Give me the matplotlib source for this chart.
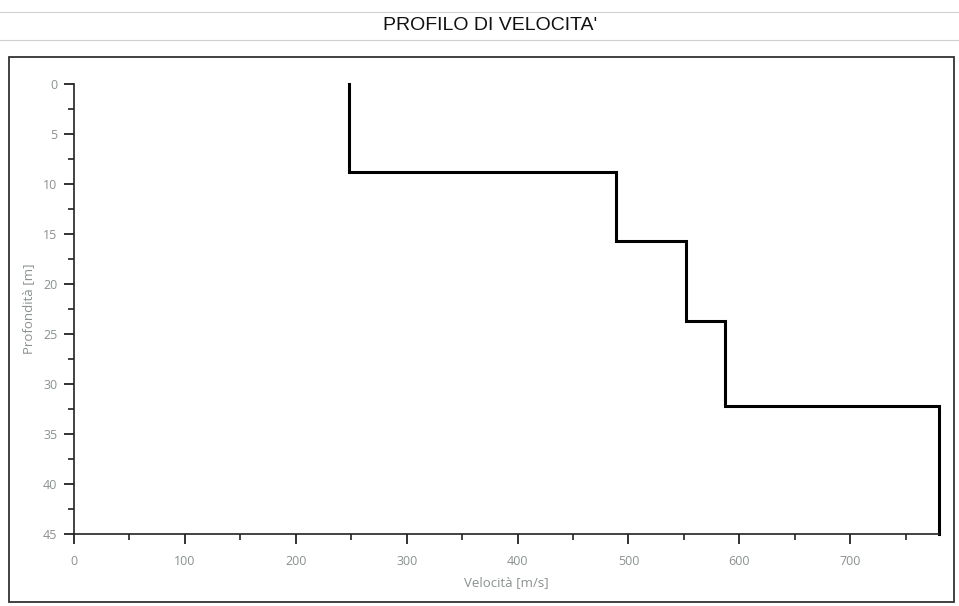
import matplotlib.pyplot as plt
from matplotlib.lines import Line2D
from matplotlib.patches import Rectangle
import numpy as np

# layer boundaries (depth, m) and shear-wave velocity of each layer (m/s)
layer_depths = [0, 8.8, 15.7, 23.7, 32.2, 45]
layer_velocities = [248, 489, 552, 587, 780]

x_ticks = [0, 100, 200, 300, 400, 500, 600, 700]
y_ticks = [0, 5, 10, 15, 20, 25, 30, 35, 40, 45]

W, H = 959, 606
fig = plt.figure(figsize=(W / 100, H / 100), dpi=100)
fig.patch.set_facecolor("white")

# title band and outer frame
for y in (12, 40):
    fig.add_artist(Line2D([0, 1], [1 - y / H, 1 - y / H], color="#d0d0d0", lw=0.8))
fig.text(490 / W, 1 - 26 / H, "PROFILO DI VELOCITA'", ha="center", va="center",
         fontsize=14, family="Liberation Sans", color="#111111")
fig.add_artist(Rectangle((9 / W, 1 - 602 / H), (954 - 9) / W, (602 - 57) / H,
                         fill=False, ec="#333333", lw=1.3, transform=fig.transFigure))

left, right, top, bottom = 74, 939, 84, 534
ax = fig.add_axes([left / W, 1 - bottom / H, (right - left) / W, (bottom - top) / H])

# step profile built from the layers
ys = np.repeat(layer_depths, 2)[1:-1]
xs = np.repeat(layer_velocities, 2)
ax.plot(xs, ys, color="black", lw=2.2, solid_joinstyle="miter", clip_on=False)

ax.set_xlim(0, 780)
ax.set_ylim(45, 0)
ax.set_xticks(x_ticks)
ax.set_xticks(np.arange(50, 800, 100), minor=True)
ax.set_yticks(y_ticks)
ax.set_yticks(np.arange(2.5, 45, 5), minor=True)

for s in ("top", "right"):
    ax.spines[s].set_visible(False)
for s in ("left", "bottom"):
    ax.spines[s].set_color("#222222")
    ax.spines[s].set_linewidth(1.2)

ax.tick_params(which="major", length=7, width=1.3, color="#222222",
               labelsize=9, labelcolor="#8a9090")
ax.tick_params(axis="x", which="major", pad=8)
ax.tick_params(axis="y", which="major", pad=5)
ax.tick_params(which="minor", length=4, width=1.2, color="#222222")
for lab in ax.get_xticklabels() + ax.get_yticklabels():
    lab.set_family("Open Sans")

ax.set_xlabel("Velocità [m/s]", fontsize=9.5, color="#8a9090", family="Open Sans", labelpad=6)
ax.set_ylabel("Profondità [m]", fontsize=9.5, color="#8a9090", family="Open Sans", labelpad=6)

fig.savefig("out.png", dpi=100, facecolor="white")
